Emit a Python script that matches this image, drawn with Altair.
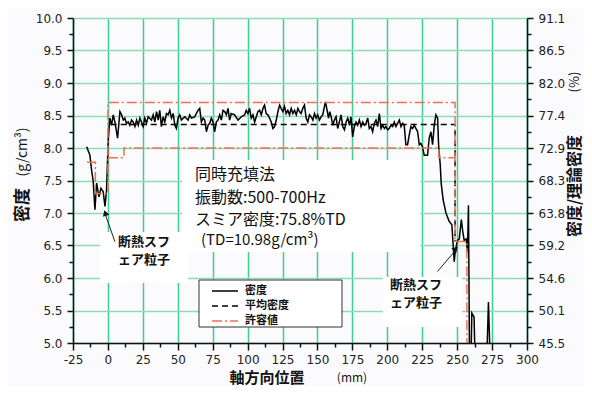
import altair as alt
import pandas as pd

JP = "Noto Sans CJK JP"

# ---------------- data ----------------
dens_x = [-15.2, -12.9, -11.7, -10.5, -9.3, -8.1, -6.4, -5.0, -3.4, -2.1, -1.0, 0.2, 1.4,
          2.6, 3.8, 5.0, 6.9, 8.6, 9.8, 11.0, 12.1, 13.3, 14.5, 15.7, 16.9, 18.1, 19.3, 20.5,
          21.7, 22.9, 24.0, 25.2, 26.4, 27.6, 28.8, 31.2, 32.4, 33.6, 34.8, 36.0, 37.1, 38.3,
          39.5, 40.7, 41.9, 43.1, 44.3, 45.5, 46.7, 47.9, 49.0, 50.2, 51.4, 52.6, 55.0, 57.4,
          58.6, 59.8, 62.1, 64.5, 65.7, 66.9, 68.1, 69.3, 70.5, 71.7, 72.9, 74.0, 75.2, 76.4,
          77.6, 78.8, 80.0, 81.2, 82.4, 83.6, 84.8, 86.0, 87.1, 88.3, 90.7, 93.1, 95.5, 97.9,
          99.0, 100.2, 101.4, 102.6, 103.8, 105.0, 106.2, 107.4, 108.6, 109.8, 111.0, 112.1,
          113.3, 114.5, 115.7, 116.9, 118.1, 119.3, 120.5, 121.7, 122.9, 124.0, 125.2, 126.4,
          127.6, 128.8, 130.0, 131.2, 132.4, 133.6, 134.8, 136.0, 137.1, 138.3, 139.5, 140.7,
          141.9, 143.1, 144.3, 145.5, 146.7, 147.9, 149.0, 150.2, 151.4, 152.6, 153.8, 155.0,
          155.7, 156.9, 157.9, 158.8, 159.8, 161.0, 162.1, 163.3, 164.5, 165.7, 166.9, 168.1,
          169.3, 170.5, 171.7, 172.9, 174.0, 175.2, 176.4, 177.6, 178.8, 180.0, 181.2, 182.4,
          183.6, 184.8, 186.0, 187.1, 188.3, 189.5, 190.7, 191.9, 193.1, 194.3, 195.5, 196.7,
          197.9, 199.0, 200.2, 201.4, 202.6, 203.8, 205.0, 206.2, 207.4, 208.6, 209.8, 211.0,
          212.1, 213.3, 214.5, 215.7, 216.9, 218.1, 219.3, 220.5, 221.7, 222.9, 224.0, 225.2,
          226.4, 227.6, 228.8, 230.0, 231.2, 232.4, 233.6, 234.8, 236.0, 236.7, 237.9, 238.6,
          240.0, 242.0, 244.3, 246.2, 247.9, 248.6, 250.2, 251.5, 253.0, 254.0, 255.0, 256.5,
          257.4, 258.1, 258.9, 259.8, 260.5, 262.1, 263.0, 271.0, 272.4, 273.8]
dens_y = [8.02, 7.89, 7.66, 7.48, 7.05, 7.46, 7.25, 7.38, 7.33, 7.10, 7.35, 8.12, 8.46,
          8.35, 8.51, 8.40, 8.15, 8.56, 8.51, 8.43, 8.46, 8.38, 8.40, 8.35, 8.43, 8.40, 8.33, 8.43,
          8.35, 8.46, 8.40, 8.33, 8.46, 8.38, 8.48, 8.43, 8.51, 8.40, 8.56, 8.43, 8.58, 8.33,
          8.48, 8.40, 8.53, 8.51, 8.58, 8.46, 8.53, 8.35, 8.30, 8.46, 8.51, 8.43, 8.48, 8.43,
          8.51, 8.46, 8.48, 8.58, 8.61, 8.40, 8.46, 8.43, 8.25, 8.35, 8.38, 8.46, 8.40, 8.25,
          8.40, 8.43, 8.51, 8.43, 8.58, 8.56, 8.51, 8.61, 8.43, 8.53, 8.51, 8.43, 8.48, 8.51,
          8.58, 8.53, 8.61, 8.46, 8.51, 8.40, 8.48, 8.56, 8.58, 8.51, 8.61, 8.66,
          8.53, 8.51, 8.46, 8.40, 8.30, 8.33, 8.43, 8.56, 8.66, 8.61, 8.56, 8.64,
          8.53, 8.58, 8.51, 8.61, 8.53, 8.58, 8.51, 8.61, 8.56, 8.53, 8.61, 8.66,
          8.46, 8.40, 8.51, 8.48, 8.43, 8.53, 8.46, 8.51, 8.43, 8.48, 8.51, 8.64,
          8.71, 8.58, 8.46, 8.56, 8.48, 8.35, 8.43, 8.48, 8.30, 8.40, 8.51, 8.33,
          8.28, 8.40, 8.46, 8.35, 8.48, 8.17, 8.33, 8.40, 8.35, 8.43, 8.33, 8.40,
          8.35, 8.38, 8.46, 8.30, 8.33, 8.25, 8.38, 8.43, 8.33, 8.53, 8.30, 8.35,
          8.30, 8.33, 8.28, 8.30, 8.35, 8.33, 8.40, 8.33, 8.38, 8.43, 8.33, 8.38,
          8.35, 8.05, 8.05, 8.20, 8.33, 8.30, 8.35, 8.30, 8.25, 8.05, 8.07, 8.02,
          7.89, 7.89, 7.89, 8.15, 8.25, 8.05, 8.35, 8.51, 8.46, 8.05, 7.74, 7.45,
          7.20, 7.00, 6.87, 6.82, 6.25, 6.40, 6.58, 6.60, 6.90, 6.72, 6.58, 6.60,
          6.40, 7.12, 4.60, 4.60, 5.46, 5.40, 4.60, 4.60, 5.63, 4.60]

avg_x = [2.0, 248.5, 248.5]
avg_y = [8.36, 8.36, 6.56]

tol_a_x = [-15.0, -9.0, -9.0, 0.0, 0.0, 248.5, 248.5, 257.0, 257.0]
tol_a_y = [7.78, 7.78, 7.30, 7.30, 8.70, 8.70, 6.56, 6.56, 5.00]
tol_b_x = [0.0, 11.5, 11.5, 237.0, 237.0, 248.5]
tol_b_y = [7.85, 7.85, 8.00, 8.00, 7.85, 7.85]

series_names = ["密度", "平均密度", "許容値"]

x_major = [-25, 0, 25, 50, 75, 100, 125, 150, 175, 200, 225, 250, 275, 300]
x_minor = [-12.5, 12.5, 37.5, 62.5, 87.5, 112.5, 137.5, 162.5, 187.5, 212.5, 237.5, 262.5, 287.5]
y_major = [5.0, 5.5, 6.0, 6.5, 7.0, 7.5, 8.0, 8.5, 9.0, 9.5, 10.0]
y_minor = [5.25, 5.75, 6.25, 6.75, 7.25, 7.75, 8.25, 8.75, 9.25, 9.75]
pct_labels = ["45.5", "50.1", "54.6", "59.2", "63.8", "68.3", "72.9", "77.4", "82.0", "86.5", "91.1"]

# ---------------- tables ----------------
rows = []
for i, (xv, yv) in enumerate(zip(dens_x, dens_y)):
    rows.append({"series": series_names[0], "seg": "d", "i": i, "x": xv, "y": yv})
for i, (xv, yv) in enumerate(zip(avg_x, avg_y)):
    rows.append({"series": series_names[1], "seg": "a", "i": i, "x": xv, "y": yv})
for i, (xv, yv) in enumerate(zip(tol_a_x, tol_a_y)):
    rows.append({"series": series_names[2], "seg": "ta", "i": i, "x": xv, "y": yv})
for i, (xv, yv) in enumerate(zip(tol_b_x, tol_b_y)):
    rows.append({"series": series_names[2], "seg": "tb", "i": i, "x": xv, "y": yv})
df = pd.DataFrame(rows)

x_vals = sorted(x_major + x_minor)
y_vals = sorted(y_major + y_minor)

xs = alt.Scale(domain=[-25, 300], nice=False, zero=False)
ys = alt.Scale(domain=[5, 10], nice=False, zero=False)

x_major_test = "datum.value % 25 === 0"
y_major_test = "(datum.value * 4) % 2 === 0"

x_axis = alt.Axis(
    values=x_vals, title=None, labelOverlap=False, labelFlush=False,
    labelExpr=f"{x_major_test} ? '' + datum.value : ''",
    tickSize={"condition": {"test": x_major_test, "value": 7}, "value": 4},
    gridOpacity={"condition": {"test": x_major_test, "value": 1}, "value": 0},
    gridColor="#3fcf94", gridWidth=1.5,
    domainColor="#111", domainWidth=1.5, tickColor="#111", tickWidth=1.5,
    labelFont="DejaVu Sans", labelFontSize=12, labelColor="#222", labelPadding=4,
)
y_axis = alt.Axis(
    values=y_vals, title=None, labelOverlap=False, labelFlush=False,
    labelExpr=f"{y_major_test} ? format(datum.value, '.1f') : ''",
    tickSize={"condition": {"test": y_major_test, "value": 6}, "value": 4},
    gridOpacity={"condition": {"test": y_major_test, "value": 1}, "value": 0},
    gridColor="#8edcb6", gridWidth=1.6,
    domainColor="#111", domainWidth=1.5, tickColor="#111", tickWidth=1.5,
    labelFont="DejaVu Sans", labelFontSize=12, labelColor="#222", labelPadding=5,
)
pct_expr = "".join(f"datum.value === {v} ? '{l}' : " for v, l in zip(y_major, pct_labels)) + "''"
y_axis_r = alt.Axis(
    orient="right", values=y_vals, title=None, labelOverlap=False, labelFlush=False,
    labelExpr=pct_expr, grid=False,
    tickSize={"condition": {"test": y_major_test, "value": 6}, "value": 4},
    domainColor="#111", domainWidth=1.5, tickColor="#111", tickWidth=1.5,
    labelFont="DejaVu Sans", labelFontSize=12, labelColor="#222", labelPadding=5,
)

X = alt.X("x:Q", scale=xs, axis=x_axis)
Y = alt.Y("y:Q", scale=ys, axis=y_axis)

COLORS = ["#000000", "#000000", "#f07050"]
DASHES = [[1, 0], [6, 4], [10, 3, 2, 3]]

one = pd.DataFrame({"k": [0]})


def box(x0, x1, y0, y1, stroke=None):
    kw = {"fill": "white"}
    if stroke:
        kw.update(stroke=stroke, strokeWidth=1)
    return alt.Chart(one).mark_rect(**kw).encode(
        x=alt.value(x0), x2=alt.value(x1), y=alt.value(y0), y2=alt.value(y1))


def label(text, x, y, size, weight="normal", angle=0, align="left", font=JP):
    kw = dict(font=font, fontSize=size, fontWeight=weight, align=align, baseline="middle",
              color="#111")
    if angle:
        kw["angle"] = angle
    return alt.Chart(pd.DataFrame({"t": [text]})).mark_text(**kw).encode(
        text="t:N", x=alt.value(x), y=alt.value(y))


def key_line(color, dash, y):
    return alt.Chart(one).mark_rule(color=color, strokeDash=dash, strokeWidth=1.5).encode(
        x=alt.value(139), x2=alt.value(165), y=alt.value(y))


bgs = [box(109, 347, 142, 234), box(27, 115, 214, 265), box(310, 389, 259, 309)]

lines = alt.Chart(df).mark_line(clip=True, strokeWidth=1.5).encode(
    x=X, y=Y,
    color=alt.Color("series:N", scale=alt.Scale(domain=series_names, range=COLORS), legend=None),
    strokeDash=alt.StrokeDash("series:N", scale=alt.Scale(domain=series_names, range=DASHES),
                              legend=None),
    detail="seg:N",
    order="i:Q",
)

arrows_df = pd.DataFrame({"x": [5.0, 235.9], "y": [6.56, 6.10],
                          "x2": [-1.6, 248.6], "y2": [6.96, 6.42]})
arrows = alt.Chart(arrows_df).mark_rule(color="#222", strokeWidth=1).encode(
    x=X, y=Y, x2="x2:Q", y2="y2:Q")
head_l = alt.Chart(pd.DataFrame({"x": [-1.9], "y": [7.0]})).mark_point(
    shape="triangle-up", filled=True, size=45, angle=342, color="#111", opacity=1).encode(x=X, y=Y)
head_r = alt.Chart(pd.DataFrame({"x": [249.0], "y": [6.45]})).mark_point(
    shape="triangle-up", filled=True, size=45, angle=43, color="#111", opacity=1).encode(x=X, y=Y)

texts = [
    label("同時充填法", 122, 157, 16),
    label("振動数:500-700Hz", 122, 180, 16),
    label("スミア密度:75.8%TD", 122, 202, 16),
    label("(TD=10.98g/cm³)", 128, 222, 15),
    label("断熱スフ", 45, 224, 13, "bold"),
    label("ェア粒子", 45, 242, 13, "bold"),
    label("断熱スフ", 317, 267, 13, "bold"),
    label("ェア粒子", 317, 285, 13, "bold"),
    label("密度", -50, 187, 17, "bold", angle=270, align="center"),
    label("(g/cm³)", -50, 134, 14, "normal", angle=270, align="center"),
    label("密度/理論密度", 502, 168, 16, "bold", angle=270, align="center"),
    label("(%)", 502, 64, 13, "normal", angle=270, align="center"),
    label("軸方向位置", 194, 360, 15, "bold", align="center"),
    label("(mm)", 279, 360, 12, "normal", align="center"),
]

legend_box = box(126, 269, 262, 309, stroke="#333")
key_rows = [273, 288, 303]
keys = [key_line(c, d, yy) for c, d, yy in zip(COLORS, DASHES, key_rows)]
key_texts = [label(n, 172, yy, 11, "bold") for n, yy in zip(series_names, key_rows)]

inner = alt.layer(*bgs, lines, arrows, head_l, head_r, legend_box, *keys, *key_texts, *texts)

right = alt.Chart(pd.DataFrame({"x": avg_x, "y": avg_y})).mark_line(opacity=0).encode(
    x=X, y=alt.Y("y:Q", scale=ys, axis=y_axis_r))

chart = alt.layer(inner, right).resolve_scale(y="independent").properties(
    width=454, height=325,
    autosize=alt.AutoSizeParams(type="none"),
    padding={"left": 65, "top": 10, "right": 57, "bottom": 43},
).configure_view(stroke="#111", strokeWidth=1.5).configure(background="#fbfbfd")

chart.save("out.html", embed_options={"renderer": "svg", "actions": False})
